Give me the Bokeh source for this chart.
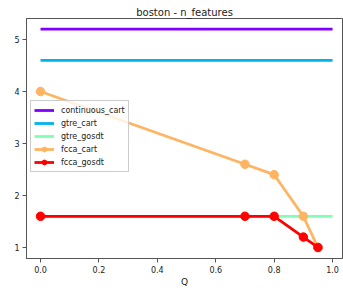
from bokeh.plotting import figure
from bokeh.models import Range1d, FixedTicker, PrintfTickFormatter, Legend, LegendItem
from bokeh.embed import file_html
from bokeh.resources import INLINE

q_full = [0.0, 1.0]
continuous_cart = [5.2, 5.2]
gtre_cart = [4.6, 4.6]
gtre_gosdt = [1.6, 1.6]
q_fcca = [0.0, 0.7, 0.8, 0.9, 0.95]
fcca_cart = [4.0, 2.6, 2.4, 1.6, 1.0]
fcca_gosdt = [1.6, 1.6, 1.6, 1.2, 1.0]
x_ticks = [0.0, 0.2, 0.4, 0.6, 0.8, 1.0]
y_ticks = [1, 2, 3, 4, 5]

FONT = "DejaVu Sans"
p = figure(width=343, height=291, output_backend="svg", toolbar_location=None,
           x_range=Range1d(-0.048, 1.034), y_range=Range1d(0.788, 5.404),
           title="boston - n_features",
           min_border_left=26, min_border_right=1, min_border_top=18, min_border_bottom=33)
p.title.align = "center"
p.title.text_font = FONT
p.title.text_font_size = "10px"
p.title.text_font_style = "normal"
p.title.text_color = "#222222"
p.title.standoff = 2

p.xgrid.visible = False
p.ygrid.visible = False
p.outline_line_color = "#555555"
p.outline_line_width = 1
p.background_fill_color = "white"

for ax in (p.xaxis[0], p.yaxis[0]):
    ax.axis_line_color = "#555555"
    ax.major_tick_line_color = "#555555"
    ax.minor_tick_line_color = None
    ax.major_tick_out = 4
    ax.major_tick_in = 0
    ax.major_label_text_font = FONT
    ax.major_label_text_font_size = "8px"
    ax.major_label_text_color = "#222222"
    ax.major_label_standoff = 3

p.xaxis.ticker = FixedTicker(ticks=x_ticks)
p.xaxis.formatter = PrintfTickFormatter(format="%.1f")
p.yaxis.ticker = FixedTicker(ticks=y_ticks)
p.xaxis.axis_label = "Q"
p.xaxis.axis_label_text_font = FONT
p.xaxis.axis_label_text_font_size = "9px"
p.xaxis.axis_label_text_font_style = "normal"
p.xaxis.axis_label_text_color = "#222222"
p.xaxis.axis_label_standoff = 1

LW = 2.8
r1 = p.line(q_full, continuous_cart, color="#8000ff", line_width=LW)
r2 = p.line(q_full, gtre_cart, color="#00b4eb", line_width=LW)
r3 = p.line(q_full, gtre_gosdt, color="#80ffb4", line_width=LW)
r4 = p.line(q_fcca, fcca_cart, color="#ffb462", line_width=LW)
r4c = p.scatter(q_fcca, fcca_cart, color="#ffb462", size=8.5)
r5 = p.line(q_fcca, fcca_gosdt, color="#ff0000", line_width=LW)
r5c = p.scatter(q_fcca, fcca_gosdt, color="#ff0000", size=8.5)

legend = Legend(items=[
    LegendItem(label="continuous_cart", renderers=[r1]),
    LegendItem(label="gtre_cart", renderers=[r2]),
    LegendItem(label="gtre_gosdt", renderers=[r3]),
    LegendItem(label="fcca_cart", renderers=[r4, r4c]),
    LegendItem(label="fcca_gosdt", renderers=[r5, r5c]),
], location=(4, 86))
legend.label_text_font = FONT
legend.label_text_font_size = "8px"
legend.label_text_color = "#222222"
legend.label_height = 12
legend.glyph_height = 12
legend.glyph_width = 20
legend.spacing = 1
legend.padding = 3
legend.margin = 0
legend.border_line_color = "#cccccc"
legend.border_line_alpha = 1
legend.background_fill_alpha = 0.8
legend.label_standoff = 7
p.add_layout(legend, "center")

open("out.html", "w").write(file_html(p, INLINE))
